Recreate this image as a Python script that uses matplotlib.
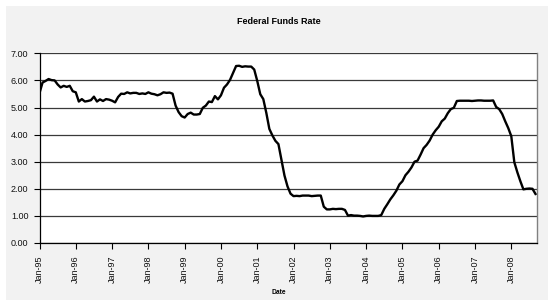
import matplotlib
matplotlib.use("Agg")
import matplotlib.pyplot as plt
from matplotlib.patches import Rectangle

plt.rcParams['font.family'] = ['Liberation Sans', 'DejaVu Sans']

years = ["95", "96", "97", "98", "99", "00", "01", "02", "03", "04", "05", "06", "07", "08"]
tick_labels = ["Jan-" + y for y in years]

rate_1995 = [5.53, 5.92, 5.98, 6.05, 6.01, 6.00, 5.85, 5.74, 5.80, 5.76, 5.80, 5.60]
rate_1996 = [5.56, 5.22, 5.31, 5.22, 5.24, 5.27, 5.40, 5.22, 5.30, 5.24, 5.31, 5.29]
rate_1997 = [5.25, 5.19, 5.39, 5.51, 5.50, 5.56, 5.52, 5.54, 5.54, 5.50, 5.52, 5.50]
rate_1998 = [5.56, 5.51, 5.49, 5.45, 5.49, 5.56, 5.54, 5.55, 5.51, 5.07, 4.83, 4.68]
rate_1999 = [4.63, 4.76, 4.81, 4.74, 4.74, 4.76, 4.99, 5.07, 5.22, 5.20, 5.42, 5.30]
rate_2000 = [5.45, 5.73, 5.85, 6.02, 6.27, 6.53, 6.54, 6.50, 6.52, 6.51, 6.51, 6.40]
rate_2001 = [5.98, 5.49, 5.31, 4.80, 4.21, 3.97, 3.77, 3.65, 3.07, 2.49, 2.09, 1.82]
rate_2002 = [1.73, 1.74, 1.73, 1.75, 1.75, 1.75, 1.73, 1.74, 1.75, 1.75, 1.34, 1.24]
rate_2003 = [1.24, 1.26, 1.25, 1.26, 1.26, 1.22, 1.01, 1.03, 1.01, 1.01, 1.00, 0.98]
rate_2004 = [1.00, 1.01, 1.00, 1.00, 1.00, 1.03, 1.26, 1.43, 1.61, 1.76, 1.93, 2.16]
rate_2005 = [2.28, 2.50, 2.63, 2.79, 3.00, 3.04, 3.26, 3.50, 3.62, 3.78, 4.00, 4.16]
rate_2006 = [4.29, 4.49, 4.59, 4.79, 4.94, 4.99, 5.24, 5.25, 5.25, 5.25, 5.25, 5.24]
rate_2007 = [5.25, 5.26, 5.26, 5.25, 5.25, 5.25, 5.26, 5.02, 4.94, 4.76, 4.49, 4.24]
rate_2008 = [3.94, 2.98, 2.61, 2.28, 1.98, 2.00, 2.01, 2.00, 1.81]

rates = (rate_1995 + rate_1996 + rate_1997 + rate_1998 + rate_1999 + rate_2000 +
         rate_2001 + rate_2002 + rate_2003 + rate_2004 + rate_2005 + rate_2006 +
         rate_2007 + rate_2008)
months = list(range(len(rates)))

W, H = 548, 305
fig = plt.figure(figsize=(W / 100, H / 100), dpi=100)
fig.patch.set_facecolor('white')
fig.patches.append(Rectangle((6 / W, 1 - 300 / H), 1 - 6 / W, (300 - 6) / H,
                             transform=fig.transFigure, facecolor='#f2f2f2',
                             edgecolor='none', zorder=-10))

left, right, top, bottom = 39.5, 537, 53.3, 243
ax = fig.add_axes([left / W, 1 - bottom / H, (right - left) / W, (bottom - top) / H])
ax.set_zorder(1)
ax.set_facecolor('white')

ax.plot(months, rates, color='black', lw=1.7, solid_joinstyle='round', zorder=3)

ax.set_ylim(0, 7)
ax.set_yticks(range(8))
ax.set_yticklabels([f"{v:.2f}" for v in range(8)], fontsize=6.5)
ax.set_xlim(0, 164.5)
ax.set_xticks([12 * i for i in range(len(tick_labels))])
ax.set_xticklabels(tick_labels, rotation=90, fontsize=6.5)

ax.grid(axis='y', color='#3a3a3a', lw=0.9)
ax.set_axisbelow(True)
ax.spines['top'].set_visible(False)
ax.spines['right'].set_color('#808080')
ax.spines['right'].set_linewidth(1.0)
ax.spines['left'].set_color('black')
ax.spines['bottom'].set_color('black')
ax.spines['left'].set_linewidth(0.9)
ax.spines['bottom'].set_linewidth(0.9)
ax.tick_params(axis='both', length=4, width=0.8, color='black', labelcolor='#111111')
ax.tick_params(axis='x', pad=5)
ax.tick_params(axis='y', pad=4)

fig.text(279 / W, 1 - 22 / H, "Federal Funds Rate", ha='center', va='center',
         fontsize=6.5, fontweight='bold')
fig.text(279 / W, 1 - 293 / H, "Date", ha='center', va='center',
         fontsize=4.8, fontweight='bold')

fig.savefig("out.png", dpi=100, facecolor=fig.get_facecolor())
